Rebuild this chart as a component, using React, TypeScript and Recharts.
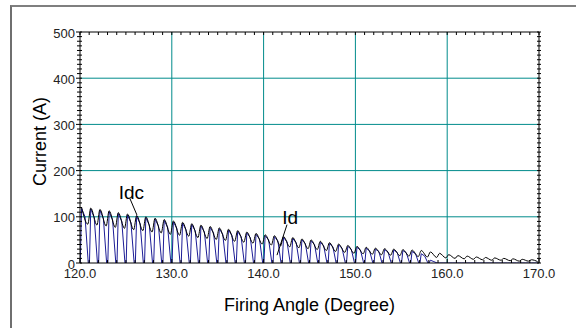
import React from 'react';
import { LineChart, Line, XAxis, YAxis, ReferenceLine, ReferenceDot } from 'recharts';

// cycle start angles (degrees)
const cycleStarts = [
  120, 121, 122, 123, 124, 125, 126, 127, 128, 129,
  130, 131, 132, 133, 134, 135, 136, 137, 138, 139,
  140, 141, 142, 143, 144, 145, 146, 147, 148, 149,
  150, 151, 152, 153, 154, 155, 156, 157, 158, 159,
  160, 161, 162, 163, 164, 165, 166, 167, 168, 169,
];

// Idc ripple peaks and troughs per cycle (A)
const idcPeaks = [
  121, 119, 116, 113, 109, 106, 103, 100, 97, 94,
  91, 88, 85, 82, 79, 76, 73, 70, 67, 64,
  61, 59, 57, 55, 52, 50, 47, 44, 41, 38,
  36, 34, 32, 31, 30, 29, 28, 27, 24, 21,
  18, 16, 15, 13, 12, 11, 10, 9, 8, 7,
];
const idcTroughs = [
  84, 82, 80, 77, 75, 72, 70, 67, 65, 62,
  60, 58, 55, 53, 51, 49, 47, 45, 43, 41,
  39, 37, 35, 33, 31, 29, 27, 25, 23, 21,
  20, 19, 18, 17, 16, 15, 14, 13, 12, 11,
  10, 9, 8, 7, 6, 6, 5, 4, 4, 3,
];

// Id pulse peak and mid-pulse values per cycle (A)
const idPeaks = [
  118, 117, 114, 111, 107, 104, 101, 98, 95, 92,
  89, 86, 83, 80, 77, 74, 71, 68, 65, 62,
  59, 57, 55, 53, 50, 48, 45, 42, 39, 36,
  34, 32, 30, 29, 28, 27, 25, 20, 6, 0,
  0, 0, 0, 0, 0, 0, 0, 0, 0, 0,
];
const idMids = [
  100, 98, 96, 93, 90, 87, 85, 82, 80, 77,
  75, 72, 70, 67, 65, 62, 60, 57, 55, 52,
  50, 48, 46, 44, 42, 40, 37, 35, 32, 30,
  28, 26, 25, 24, 23, 22, 20, 15, 3, 0,
  0, 0, 0, 0, 0, 0, 0, 0, 0, 0,
];

const xMajorTicks = [120, 130, 140, 150, 160, 170];
const yMajorTicks = [0, 100, 200, 300, 400, 500];
const xMinorTicks = Array.from({ length: 51 }, (_, i) => 120 + i);
const yMinorTicks = Array.from({ length: 51 }, (_, i) => i * 10);

type Row = { x: number; idc?: number; id?: number };
const rows: Row[] = [];
cycleStarts.forEach((a, i) => {
  rows.push({ x: a + 0.03, id: 0 });
  rows.push({ x: a + 0.17, idc: idcPeaks[i], id: idPeaks[i] });
  rows.push({ x: a + 0.55, id: idMids[i] });
  rows.push({ x: a + 0.85, idc: idcTroughs[i] });
  rows.push({ x: a + 0.9, id: 0 });
});
rows.sort((p, q) => p.x - q.x);

const FONT = '"Liberation Sans", Arial, Helvetica, sans-serif';

const BottomTick = (props: any) => {
  const { x, y, payload } = props;
  const major = xMajorTicks.includes(payload.value);
  return (
    <g>
      <line x1={x} x2={x} y1={y} y2={y - (major ? 4 : 3)} stroke="#000" />
      {major && (
        <text x={x} y={y + 10} textAnchor="middle" dominantBaseline="central" fontSize={13} fontFamily={FONT} fill="#222">
          {payload.value.toFixed(1)}
        </text>
      )}
    </g>
  );
};

const TopTick = (props: any) => {
  const { x, y } = props;
  return <line x1={x} x2={x} y1={y} y2={y + 3} stroke="#000" />;
};

const LeftTick = (props: any) => {
  const { x, y, payload } = props;
  const major = yMajorTicks.includes(payload.value);
  return (
    <g>
      <line x1={x - (major ? 4 : 3)} x2={x + 2} y1={y} y2={y} stroke="#000" />
      {major && (
        <text x={x - 5} y={y + 1} textAnchor="end" dominantBaseline="central" fontSize={13} fontFamily={FONT} fill="#222">
          {payload.value}
        </text>
      )}
    </g>
  );
};

const RightTick = (props: any) => {
  const { x, y } = props;
  return <line x1={x - 2} x2={x + 2} y1={y} y2={y} stroke="#000" />;
};

const YLabel = (props: any) => {
  const vb = props.viewBox || { x: 0, y: 32, width: 80, height: 231 };
  const cx = vb.x + vb.width / 2;
  const cy = vb.y + vb.height / 2 - 6;
  return (
    <text x={cx} y={cy} transform={`rotate(-90 ${cx} ${cy})`} textAnchor="middle" dominantBaseline="central" fontSize={18} fontFamily={FONT} fill="#000">
      Current (A)
    </text>
  );
};

const XLabel = (props: any) => {
  const vb = props.viewBox || { x: 80, y: 263, width: 459, height: 65 };
  const cx = vb.x + vb.width / 2;
  const cy = vb.y + 42;
  return (
    <text x={cx} y={cy} textAnchor="middle" dominantBaseline="central" fontSize={18} fontFamily={FONT} fill="#000">
      Firing Angle (Degree)
    </text>
  );
};

export default function App() {
  return (
    <div style={{ position: 'fixed', left: 0, top: 0, width: 576, height: 328, overflow: 'hidden', background: '#fff' }}>
      <div style={{ position: 'absolute', left: 0, top: 0 }}>
        <LineChart width={576} height={328} data={rows} margin={{ top: 31, right: 36, left: 0, bottom: 0 }}>
          <XAxis
            xAxisId="b"
            dataKey="x"
            type="number"
            domain={[120, 170]}
            allowDataOverflow
            ticks={xMinorTicks}
            interval={0}
            tickSize={0}
            tickMargin={0}
            tickLine={false}
            tick={<BottomTick />}
            axisLine={{ stroke: '#000' }}
            height={65}
            label={<XLabel />}
          />
          <XAxis
            xAxisId="t"
            orientation="top"
            dataKey="x"
            type="number"
            domain={[120, 170]}
            allowDataOverflow
            ticks={xMinorTicks}
            interval={0}
            tickSize={0}
            tickMargin={0}
            tickLine={false}
            tick={<TopTick />}
            axisLine={{ stroke: '#000' }}
            height={1}
          />
          <YAxis
            yAxisId="l"
            type="number"
            domain={[0, 500]}
            allowDataOverflow
            ticks={yMinorTicks}
            interval={0}
            tickSize={0}
            tickMargin={0}
            tickLine={false}
            tick={<LeftTick />}
            axisLine={{ stroke: '#000' }}
            width={80}
            label={<YLabel />}
          />
          <YAxis
            yAxisId="r"
            orientation="right"
            type="number"
            domain={[0, 500]}
            allowDataOverflow
            ticks={yMinorTicks}
            interval={0}
            tickSize={0}
            tickMargin={0}
            tickLine={false}
            tick={<RightTick />}
            axisLine={{ stroke: '#000' }}
            width={1}
          />
          {xMajorTicks.slice(1, -1).map((v) => (
            <ReferenceLine key={'gx' + v} xAxisId="b" yAxisId="l" x={v} stroke="#008b8b" strokeWidth={1} />
          ))}
          {yMajorTicks.slice(1, -1).map((v) => (
            <ReferenceLine key={'gy' + v} xAxisId="b" yAxisId="l" y={v} stroke="#008b8b" strokeWidth={1} />
          ))}
          <Line
            xAxisId="b"
            yAxisId="l"
            type="linear"
            dataKey="id"
            stroke="#1c1c96"
            strokeWidth={1}
            dot={false}
            connectNulls
            isAnimationActive={false}
          />
          <Line
            xAxisId="t"
            yAxisId="r"
            type="monotone"
            dataKey="idc"
            stroke="#000"
            strokeWidth={1}
            dot={false}
            connectNulls
            isAnimationActive={false}
          />
          <ReferenceLine
            xAxisId="b"
            yAxisId="l"
            segment={[{ x: 125.45, y: 139 }, { x: 126.2, y: 104 }]}
            stroke="#000"
            strokeWidth={1}
          />
          <ReferenceLine
            xAxisId="b"
            yAxisId="l"
            segment={[{ x: 142.55, y: 83 }, { x: 141.46, y: 17 }]}
            stroke="#000"
            strokeWidth={1}
          />
          <ReferenceDot
            xAxisId="b"
            yAxisId="l"
            x={125.6}
            y={154}
            r={0}
            fill="none"
            stroke="none"
            label={{ value: 'Idc', position: 'center', fontSize: 19, fill: '#000', fontFamily: FONT }}
          />
          <ReferenceDot
            xAxisId="b"
            yAxisId="l"
            x={142.9}
            y={100}
            r={0}
            fill="none"
            stroke="none"
            label={{ value: 'Id', position: 'center', fontSize: 19, fill: '#000', fontFamily: FONT }}
          />
        </LineChart>
      </div>
      <div
        style={{
          position: 'absolute',
          left: 10,
          top: 5,
          width: 700,
          height: 500,
          borderTop: '2px solid #7f7f7f',
          borderLeft: '2px solid #6f6f6f',
          pointerEvents: 'none',
        }}
      />
    </div>
  );
}
